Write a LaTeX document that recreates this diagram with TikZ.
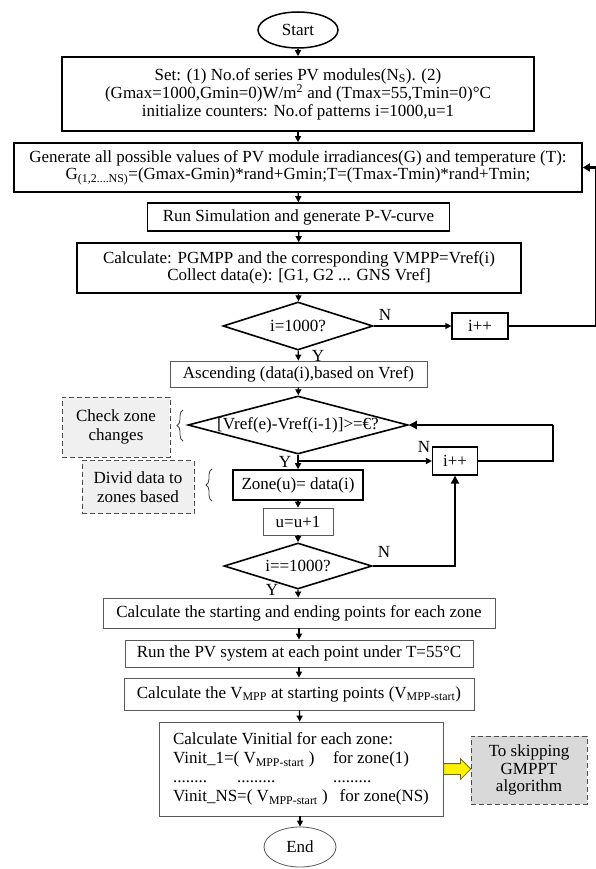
\documentclass[tikz,border=0pt]{standalone}
\usepackage{fontspec}
\setmainfont{Liberation Serif}
\usetikzlibrary{arrows.meta,shapes.geometric,shapes.arrows,decorations.pathreplacing}
\begin{document}
\begin{tikzpicture}[x=1pt,y=-1pt,
  font=\fontsize{17}{17.5}\selectfont,
  base/.style={inner sep=0pt, align=center},
  thickbox/.style={base, draw, line width=1.6pt},
  medbox/.style={base, draw, line width=1.2pt},
  thinbox/.style={base, draw=black!65, line width=0.8pt},
  notebox/.style={base, draw=black!70, dashed, dash pattern=on 5pt off 3pt, line width=0.9pt, fill=black!6},
  decide/.style={diamond, draw, line width=1.6pt, inner sep=0pt},
  conn/.style={line width=1.3pt, -{Triangle[width=6pt,length=6pt]}},
  loopline/.style={line width=2.4pt},
  lbl/.style={inner sep=0pt, font=\fontsize{17}{17}\selectfont},
  bracefor/.style={decorate, decoration={brace, amplitude=6pt}, line width=0.8pt, draw=black!75}
]
\useasboundingbox (0,0) rectangle (595,869);

% main column
\node[ellipse, draw, line width=1.5pt, minimum width=80, minimum height=36, inner sep=0pt] (start) at (298,30) {Start};
\node[thickbox, minimum width=472, minimum height=74] (set) at (298,94)
  {Set: (1) No.of series PV modules(N\textsubscript{S}). (2)\\
   (Gmax=1000,Gmin=0)W/m\textsuperscript{2} and (Tmax=55,Tmin=0)°C\\
   initialize counters: No.of patterns i=1000,u=1};
\node[thickbox, minimum width=568, minimum height=49] (gen) at (298,167.5)
  {Generate all possible values of PV module irradiances(G) and temperature (T):\\
   G\textsubscript{(1,2....NS)}=(Gmax-Gmin)*rand+Gmin;T=(Tmax-Tmin)*rand+Tmin;};
\node[thickbox, minimum width=302, minimum height=28] (run) at (298.5,217) {Run Simulation and generate P-V-curve};
\node[thickbox, minimum width=444, minimum height=50] (calc) at (299,268)
  {Calculate: PGMPP and the corresponding VMPP=Vref(i)\\
   Collect data(e): [G1, G2 ... GNS Vref]};
\node[decide, minimum width=150, minimum height=48, label={[lbl]center:i=1000?}] (d1) at (298,326) {};
\node[medbox, minimum width=56, minimum height=26] (ipp1) at (480,326) {i++};
\node[thinbox, minimum width=257, minimum height=26] (asc) at (298.5,374) {Ascending (data(i),based on Vref)};
\node[decide, minimum width=220, minimum height=58, label={[lbl]center:[Vref(e)-Vref(i-1)]>=€?}] (d2) at (298,425) {};
\node[medbox, minimum width=45, minimum height=28] (ipp2) at (455,461) {i++};
\node[thickbox, minimum width=130, minimum height=30] (zone) at (298,485) {Zone(u)= data(i)};
\node[thinbox, minimum width=70, minimum height=27] (uu) at (298,521.5) {u=u+1};
\node[decide, minimum width=148, minimum height=46, label={[lbl]center:i==1000?}] (d3) at (298,566) {};
\node[thinbox, minimum width=392, minimum height=30] (cse) at (299,613) {Calculate the starting and ending points for each zone};
\node[thinbox, minimum width=348, minimum height=27] (runpv) at (299,653.5) {Run the PV system at each point under T=55°C};
\node[thinbox, minimum width=350, minimum height=32] (calcv) at (299,694)
  {Calculate the V\textsubscript{MPP} at starting points (V\textsubscript{MPP-start})};
\node[thinbox, minimum width=284, minimum height=94, align=left, inner xsep=10pt, font=\fontsize{17}{19}\selectfont] (vinit) at (301,769)
  {Calculate Vinitial for each zone:\\
   \makebox[160pt][l]{Vinit\_1=( V\textsubscript{MPP-start} )}for zone(1)\\
   \makebox[64pt][l]{........}\makebox[96pt][l]{.........}.........\\
   Vinit\_NS=( V\textsubscript{MPP-start} )\hspace{12pt}for zone(NS)};
\node[ellipse, draw=black!65, line width=0.8pt, minimum width=72, minimum height=40, inner sep=0pt] (end) at (300,847) {End};

% side notes
\node[notebox, minimum width=108, minimum height=60] (check) at (116,427) {Check zone\\[2pt]changes};
\node[notebox, minimum width=112, minimum height=53] (divid) at (138,487) {Divid data to\\[2pt]zones based};
\node[notebox, fill=black!15, minimum width=116, minimum height=68] (skip) at (529,770) {To skipping\\GMPPT\\algorithm};
\node[single arrow, draw=olive!70!black, fill=yellow, line width=0.8pt, inner sep=5pt,
      minimum height=27, minimum width=20, single arrow head extend=5pt, anchor=west] (yarrow) at (vinit.east) {};

\draw[bracefor] (183,441) -- (183,410);
\draw[bracefor] (212,501) -- (212,469);

% helper coordinates
\coordinate (rc1) at (596,0);
\coordinate (rc2) at (553,0);
\coordinate (j) at (298,461);

% connectors
\draw[conn] (start) -- (set);
\draw[conn] (set) -- (gen);
\draw[conn] (gen) -- (run);
\draw[conn] (run) -- (calc);
\draw[conn] (calc) -- (d1);
\draw[conn] (d1) -- (asc);
\draw[conn] (d1.east) -- (ipp1.west);
\draw[loopline] (ipp1.east) -| (rc1 |- gen.east);
\draw[loopline, -{Triangle[width=8pt,length=7pt]}] (rc1 |- gen.east) -- (gen.east);
\draw[conn] (asc) -- (d2);
\draw[conn] (d2.south) -- (zone.north);
\draw[conn, line width=2.2pt] (j) -- (ipp2.west);
\draw[loopline] (ipp2.east) -| (rc2 |- d2.east);
\draw[loopline, -{Triangle[width=8pt,length=8pt]}] (rc2 |- d2.east) -- (d2.east);
\draw[conn] (zone) -- (uu);
\draw[conn] (uu) -- (d3);
\draw[loopline, -{Triangle[width=8pt,length=8pt]}] (d3.east) -| (ipp2.south);
\draw[conn] (d3.south) -- (cse);
\draw[conn] (cse) -- (runpv);
\draw[conn] (runpv) -- (calcv);
\draw[conn] (calcv) -- (vinit);
\draw[conn] (vinit.south -| end.north) -- (end.north);

% labels
\node[lbl] (n1) at (385,315) {N};
\node[lbl] (y1) at (318,356) {Y};
\node[lbl] (y2) at (285,462) {Y};
\node[lbl] (n2) at (424,447) {N};
\node[lbl] (n3) at (384,552) {N};
\node[lbl] (y3) at (272,590) {Y};
\end{tikzpicture}
\end{document}
